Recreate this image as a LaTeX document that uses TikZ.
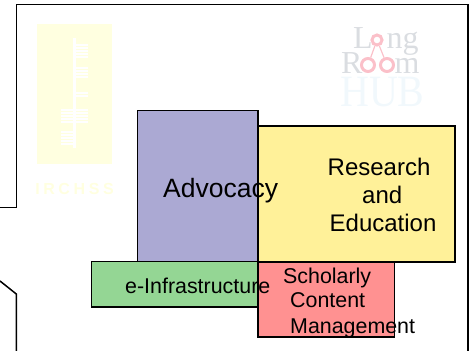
\documentclass[tikz,border=0pt]{standalone}
\usepackage{fontspec}
\setmainfont{Liberation Sans}
\newfontfamily\logoserif{Liberation Serif}
\definecolor{advblue}{HTML}{ABA9D3}
\definecolor{resyellow}{HTML}{FFF199}
\definecolor{infgreen}{HTML}{94D694}
\definecolor{schred}{HTML}{FF9191}
\definecolor{logoyellow}{HTML}{FFFFE0}
\definecolor{logogrey}{HTML}{DADDE1}
\definecolor{logopink}{HTML}{FBC0C9}
\definecolor{logoblue}{HTML}{F1F8FC}
\tikzset{
  panel/.style={draw=black,line width=1.5pt},
  outline/.style={draw=black,line width=1.5pt,line join=miter},
  ogham/.style={fill=white,draw=none},
  lab/.style={text=black,inner sep=0pt,anchor=base west},
  longlab/.style={inner sep=0pt,anchor=base west,text=logogrey,font=\logoserif\fontsize{32}{32}\selectfont},
  ring/.style={draw=logopink,line width=3pt,fill=none},
  labbig/.style={lab,font=\fontsize{24}{24}\selectfont},
  labmid/.style={lab,font=\fontsize{21.4}{21.4}\selectfont},
}
\begin{document}
\begin{tikzpicture}[x=1pt,y=-1pt]
\useasboundingbox (0,0) rectangle (475,351);
% outer outline
\coordinate (o1) at (0,207.5);
\coordinate (o2) at (16.3,207.5);
\coordinate (o3) at (16.3,4.5);
\coordinate (o4) at (468,4.5);
\coordinate (o5) at (468,351);
\coordinate (o6) at (0,281);
\coordinate (o7) at (16.3,294);
\coordinate (o8) at (16.3,351);
\draw[outline] (o1) -- (o2) -- (o3) -- (o4) -- (o5);
\draw[outline] (o6) -- (o7) -- (o8);
% IRCHSS logo
\fill[logoyellow] (36.5,24) rectangle (112,163.5);
\fill[ogham] (73,38) rectangle (76,147.5);
\foreach \y in {44,47,50,53,56,67,70,73,76,92,95,109,112,115,118,121}
  \fill[ogham] (74,\y) rectangle (87.5,\y+1.6);
\foreach \y in {109,112,115,118,121,131,134,137,140,143}
  \fill[ogham] (61,\y) rectangle (74,\y+1.6);
\node[inner sep=0pt,text=logoyellow,font=\bfseries\fontsize{16}{16}\selectfont] (irc) at (74.5,189) {I\hspace{3.6pt}R\hspace{3.6pt}C\hspace{3.6pt}H\hspace{3.6pt}S\hspace{3.6pt}S};
% Long Room Hub logo
\node[longlab] (long) at (353,48) {L\phantom{o}\hspace{-2pt}ng};
\node[longlab] (room) at (341,73) {R\phantom{oo}m};
\node[inner sep=0pt,anchor=base west,text=logoblue,font=\logoserif\fontsize{40}{40}\selectfont] (hub) at (340,106) {\scalebox{1}[1.12]{HUB}};
\node[circle,ring,minimum size=10pt,inner sep=0pt] (c1) at (377,40) {};
\node[circle,ring,minimum size=13pt,inner sep=0pt] (c2) at (368,65) {};
\node[circle,ring,minimum size=13pt,inner sep=0pt] (c3) at (387,65) {};
\draw[draw=logopink,line width=1.2pt] (c1) -- (c2);
\draw[draw=logopink,line width=1.2pt] (c1) -- (c3);
% panels
\draw[panel,fill=advblue] (137.5,110.5) rectangle (258,262);
\draw[panel,fill=infgreen] (91.5,261.5) rectangle (258,307);
\draw[panel,fill=resyellow] (258,126) rectangle (455,262);
\draw[panel,fill=schred] (258,262) rectangle (394.5,337);
% labels
\node[lab,font=\fontsize{26.5}{26.5}\selectfont] (adv) at (163,197) {Advocacy};
\node[labbig] (r1) at (327.5,175) {Research};
\node[labbig] (r2) at (362,203) {and};
\node[labbig] (r3) at (329.5,231) {Education};
\node[labmid] (inf) at (125,293) {e-Infrastructure};
\node[labmid] (s1) at (283,283) {Scholarly};
\node[labmid] (s2) at (290,307.5) {Content};
\node[labmid] (s3) at (290,333.5) {Management};
\end{tikzpicture}
\end{document}
